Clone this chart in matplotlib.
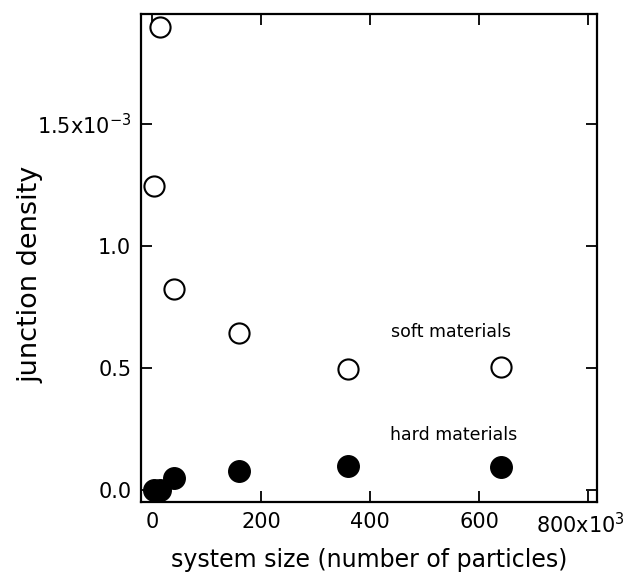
import matplotlib
matplotlib.use("Agg")
import matplotlib.pyplot as plt
import matplotlib.transforms as mtransforms

# system size in units of 10^3 particles, junction density in units of 10^-3
size_soft = [3.6, 14.4, 40, 160, 360, 640]
density_soft = [1.247, 1.898, 0.824, 0.643, 0.496, 0.507]

size_hard = [3.6, 14.4, 40, 160, 360, 640]
density_hard = [0.0, 0.0, 0.050, 0.081, 0.100, 0.097]

xticks = [0, 200, 400, 600, 800]
xtick_labels = ["0", "200", "400", "600", r"800x10$^{3}$"]
yticks = [0.0, 0.5, 1.0, 1.5]
ytick_labels = ["0.0", "0.5", "1.0", r"1.5x10$^{-3}$"]

plt.rcParams["font.family"] = "DejaVu Sans"
plt.rcParams["mathtext.default"] = "regular"

fig = plt.figure(figsize=(6.29, 5.75), dpi=100)
ax = fig.add_axes([0.2242, 0.127, 0.7249, 0.8487])

ax.plot(size_soft, density_soft, "o", ms=14.5, mfc="white", mec="black", mew=1.5, ls="none")
ax.plot(size_hard, density_hard, "o", ms=15.5, mfc="black", mec="black", mew=1.0, ls="none")

ax.text(549, 0.65, "soft materials", ha="center", va="center", fontsize=12.5)
ax.text(553, 0.227, "hard materials", ha="center", va="center", fontsize=12.5)

ax.set_xlim(-20, 816)
ax.set_ylim(-0.047, 1.95)

ax.set_xticks(xticks)
ax.set_xticklabels(xtick_labels)
ax.set_yticks(yticks)
ax.set_yticklabels(ytick_labels)

ax.tick_params(direction="in", length=8, width=1.3, top=True, right=True,
               labelsize=15, pad=7)
for sp in ax.spines.values():
    sp.set_linewidth(1.6)

# keep the last x label inside the figure, like the original
last = ax.get_xticklabels()[-1]
last.set_transform(last.get_transform() + mtransforms.ScaledTranslation(-8 / 100, 0, fig.dpi_scale_trans))

ax.set_xlabel("system size (number of particles)", fontsize=17, labelpad=8)
ax.set_ylabel("junction density", fontsize=19.5)
ax.yaxis.set_label_coords(-0.215, 0.467)

fig.savefig("out.png", dpi=100)
